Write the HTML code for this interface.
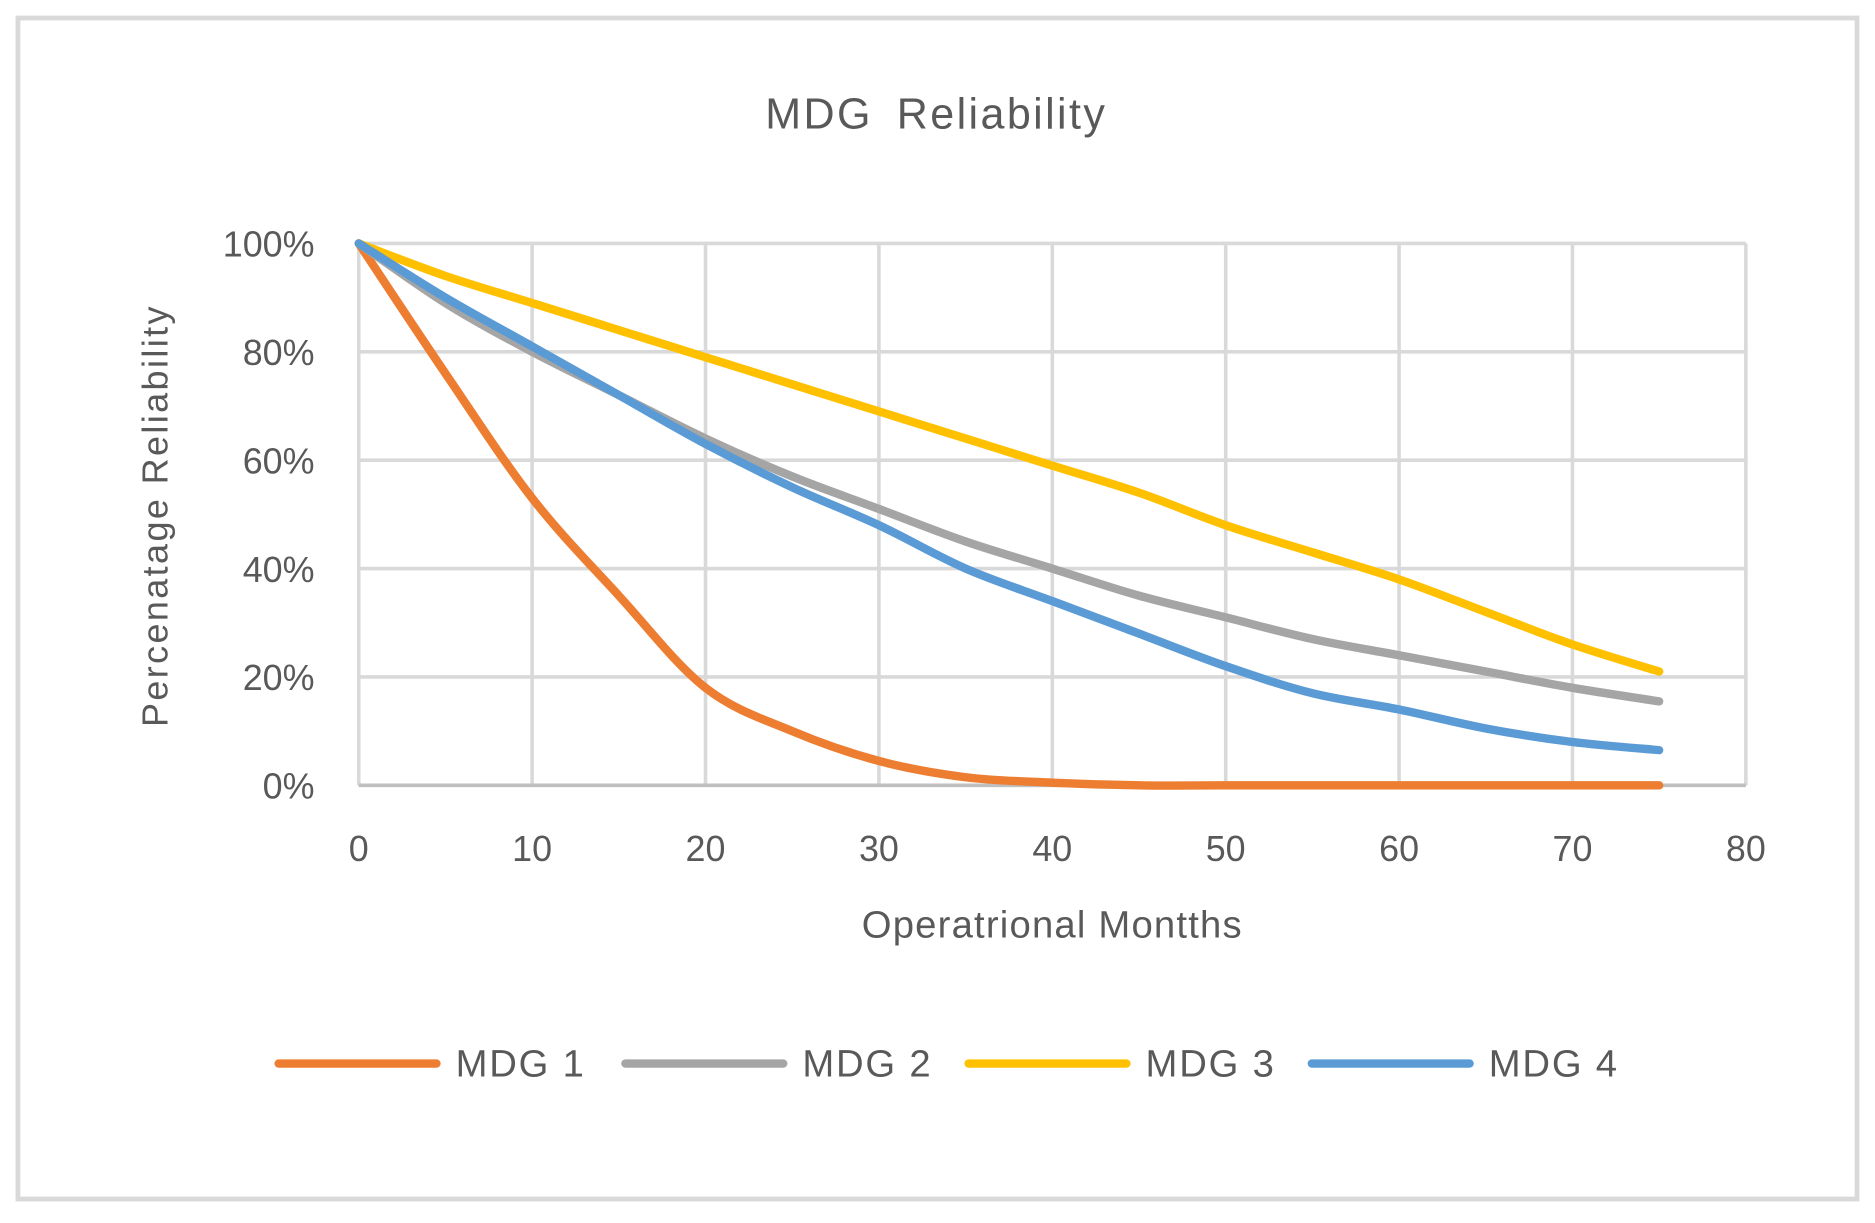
<!DOCTYPE html>
<html><head><meta charset="utf-8"><style>
html,body{margin:0;padding:0;background:#fff;}
svg{display:block;font-family:"Liberation Sans",sans-serif;}
</style></head><body>
<svg id="chart" width="1875" height="1223" viewBox="0 0 1568 1020" preserveAspectRatio="none">
<rect x="15" y="15" width="1538" height="985" fill="#fff" stroke="#d9d9d9" stroke-width="4"/>
<text x="783" y="107" text-anchor="middle" font-size="36" fill="#595959" letter-spacing="2" word-spacing="8">MDG Reliability</text>
<g id="grid"></g>
<g id="series"></g>
<text x="880" y="782" text-anchor="middle" font-size="32" fill="#595959" letter-spacing="1">Operatrional Montths</text>
<text transform="translate(140,430) rotate(-90)" text-anchor="middle" font-size="30" fill="#595959" letter-spacing="2">Percenatage Reliability</text>
<g id="legend"></g>
</svg>
<script>
const months=[0,5,10,15,20,25,30,35,40,45,50,55,60,65,70,75];
const mdg1=[100,76,53,35,18,10,4.5,1.5,0.5,0,0,0,0,0,0,0];
const mdg2=[100,89,80,72,64,57,51,45,40,35,31,27,24,21,18,15.5];
const mdg3=[100,94,89,84,79,74,69,64,59,54,48,43,38,32,26,21];
const mdg4=[100,90,81,72,63,55,48,40,34,28,22,17,14,10.5,8,6.5];
const seriesNames=["MDG 1","MDG 2","MDG 3","MDG 4"];
const seriesColors=["#ed7d31","#a5a5a5","#ffc000","#5b9bd5"];
const xTicks=[0,10,20,30,40,50,60,70,80];
const yTicks=[0,20,40,60,80,100];
const NS="http://www.w3.org/2000/svg";
const X=v=>300+v*(1160/80);
const Y=v=>655-v*(452/100);
function mk(t,a,p){const e=document.createElementNS(NS,t);for(const k in a)e.setAttribute(k,a[k]);p.appendChild(e);return e;}
const grid=document.getElementById('grid');
yTicks.forEach(t=>{
  const l=mk('line',{x1:300,x2:1460,y1:Y(t),y2:Y(t),stroke:'#d9d9d9','stroke-width':3},grid);
  
  
  const tx=mk('text',{x:263,y:Y(t)+11,'text-anchor':'end','font-size':30,fill:'#595959'},grid);
  tx.textContent=t+'%';
  
  
});
xTicks.forEach(t=>{
  const l=mk('line',{x1:X(t),x2:X(t),y1:Y(100),y2:Y(0),stroke:'#d9d9d9','stroke-width':3},grid);
  
  
  const tx=mk('text',{x:X(t),y:718,'text-anchor':'middle','font-size':30,fill:'#595959'},grid);
  tx.textContent=t;
  
  
});
const ax=mk('line',{x1:300,x2:1460,y1:Y(0),y2:Y(0),stroke:'#bfbfbf','stroke-width':3},grid);


function smooth(xs,ys){
  const P=xs.map((x,i)=>[X(x),Y(ys[i])]);
  let d='M'+P[0][0]+','+P[0][1];
  for(let i=0;i<P.length-1;i++){
    const p0=P[i-1]||P[i],p1=P[i],p2=P[i+1],p3=P[i+2]||p2;
    const c1=[p1[0]+(p2[0]-p0[0])/6,p1[1]+(p2[1]-p0[1])/6];
    const c2=[p2[0]-(p3[0]-p1[0])/6,p2[1]-(p3[1]-p1[1])/6];
    d+=' C'+c1+' '+c2+' '+p2;
  }
  return d;
}
const sg=document.getElementById('series');
[mdg1,mdg2,mdg3,mdg4].forEach((s,i)=>{
  const p=mk('path',{d:smooth(months,s),fill:'none',stroke:seriesColors[i],'stroke-width':7,'stroke-linecap':'round','stroke-linejoin':'round'},sg);
  
  
});
const lg=document.getElementById('legend');
const lx=[233,523,810,1097];
seriesNames.forEach((n,i)=>{
  const g=mk('g',{},lg);
  
  
  mk('line',{x1:lx[i],x2:lx[i]+132,y1:887,y2:887,stroke:seriesColors[i],'stroke-width':7,'stroke-linecap':'round'},g);
  const t=mk('text',{x:lx[i]+148,y:898,'font-size':32,fill:'#595959','letter-spacing':1.5},g);
  t.textContent=n;
});
</script>
</body></html>
